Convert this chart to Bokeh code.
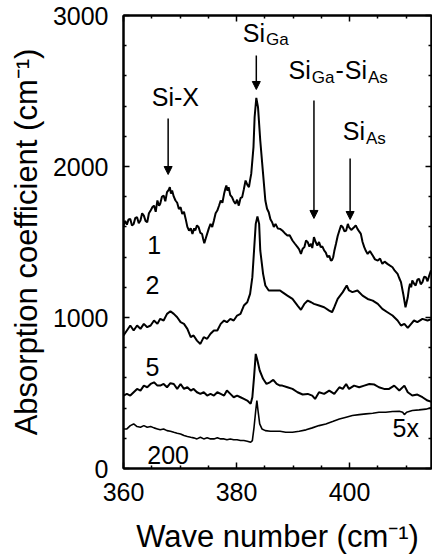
from bokeh.plotting import figure
from bokeh.models import (Range1d, FixedTicker, LinearAxis, Arrow, NormalHead,
                          CustomLabelingPolicy)
from bokeh.core.properties import value
from bokeh.embed import file_html
from bokeh.resources import INLINE

FONT = "Liberation Sans"

# ---------------- data ----------------
X_MAJOR = [360, 380, 400]
X_MINOR = [365, 370, 375, 385, 390, 395, 405, 410]
Y_MAJOR = [0, 1000, 2000, 3000]
Y_MINOR = [200, 400, 600, 800, 1200, 1400, 1600, 1800, 2200, 2400, 2600, 2800]

# curve "1"
wn_1 = [360.0, 360.3, 360.6, 360.9, 361.2, 361.5, 361.8, 362.1, 362.4, 362.7,
        363.0, 363.3, 363.6, 363.9, 364.2, 364.5, 364.8, 365.1, 365.4, 365.7,
        366.0, 366.3, 366.5, 366.8, 367.1, 367.4, 367.7, 368.0, 368.2, 368.4,
        368.6, 368.9, 369.2, 369.5, 369.8, 370.1, 370.4, 370.7, 371.0, 371.3,
        371.6, 371.9, 372.2, 372.5, 372.7, 373.0, 373.3, 373.6, 373.9, 374.1,
        374.3, 374.6, 374.8, 375.1, 375.4, 375.7, 376.0, 376.3, 376.6, 376.9,
        377.2, 377.5, 377.8, 378.0, 378.2, 378.4, 378.6, 378.9, 379.2, 379.5,
        379.8, 380.1, 380.4, 380.7, 381.0, 381.3, 381.6, 381.9, 382.2, 382.4,
        382.6, 383.0, 383.2, 383.5, 383.8, 384.2, 384.7, 385.1, 385.4, 385.7,
        386.0, 386.3, 386.6, 386.9, 387.3, 387.7, 388.1, 388.5, 389.0, 389.4,
        389.9, 390.3, 390.8, 391.1, 391.4, 391.7, 392.0, 392.3, 392.6, 392.9,
        393.2, 393.4, 393.7, 394.0, 394.3, 394.6, 394.9, 395.2, 395.5, 395.8,
        396.1, 396.4, 396.7, 396.9, 397.1, 397.3, 397.6, 397.9, 398.2, 398.5,
        398.8, 399.1, 399.4, 399.7, 399.9, 400.3, 400.8, 401.1, 401.4, 401.7,
        402.0, 402.3, 402.6, 402.9, 403.2, 403.6, 404.1, 404.5, 405.0, 405.4,
        405.8, 406.2, 406.7, 407.1, 407.6, 408.0, 408.5, 408.8, 409.1, 409.5,
        409.9, 410.1, 410.3, 410.5, 410.7, 410.9, 411.1, 411.4, 411.7, 412.0,
        412.3, 412.6, 412.9, 413.2, 413.5, 413.8, 414.1, 414.4, 414.7]
ab_1 = [1609, 1640, 1615, 1650, 1653, 1610, 1620, 1660, 1664, 1625,
        1642, 1690, 1675, 1640, 1631, 1690, 1708, 1730, 1741, 1700,
        1775, 1740, 1753, 1800, 1808, 1770, 1830, 1845, 1863, 1820,
        1841, 1800, 1775, 1760, 1719, 1730, 1686, 1700, 1653, 1600,
        1576, 1590, 1554, 1590, 1576, 1610, 1598, 1560, 1554, 1520,
        1492, 1530, 1554, 1590, 1620, 1600, 1642, 1690, 1708, 1740,
        1775, 1760, 1819, 1850, 1874, 1840, 1863, 1810, 1797, 1770,
        1753, 1780, 1741, 1790, 1797, 1850, 1907, 1880, 1863, 1910,
        1951, 2128, 2326, 2454, 2393, 2172, 1951, 1775, 1720, 1697,
        1650, 1631, 1600, 1620, 1590, 1587, 1576, 1560, 1543, 1545,
        1510, 1490, 1466, 1450, 1421, 1455, 1466, 1510, 1499, 1470,
        1488, 1460, 1532, 1500, 1477, 1500, 1466, 1470, 1444, 1430,
        1399, 1410, 1377, 1380, 1399, 1440, 1488, 1540, 1576, 1610,
        1598, 1570, 1576, 1620, 1598, 1580, 1598, 1610, 1587, 1570,
        1554, 1500, 1466, 1440, 1421, 1440, 1410, 1385, 1377, 1390,
        1355, 1370, 1355, 1345, 1333, 1310, 1289, 1260, 1234, 1156,
        1068, 1100, 1134, 1190, 1223, 1200, 1245, 1225, 1212, 1250,
        1256, 1220, 1234, 1270, 1267, 1240, 1278, 1310, 1300]

# curve "2"
wn_2 = [360.0, 360.6, 361.2, 361.8, 362.4, 363.0, 363.6, 364.2, 364.8, 365.4,
        366.0, 366.5, 367.1, 367.7, 368.3, 368.9, 369.5, 370.1, 370.7, 371.3,
        371.9, 372.4, 373.0, 373.6, 374.2, 374.8, 375.4, 376.0, 376.6, 377.2,
        377.8, 378.3, 378.9, 379.5, 380.1, 380.7, 381.3, 381.9, 382.4, 382.8,
        383.1, 383.4, 383.7, 384.0, 384.2, 384.7, 385.1, 385.7, 386.3, 386.9,
        387.7, 388.1, 389.0, 389.9, 390.8, 391.4, 392.0, 392.6, 393.2, 393.7,
        394.6, 395.5, 396.4, 396.9, 397.3, 397.9, 398.8, 399.5, 399.9, 400.5,
        401.4, 402.3, 403.2, 404.1, 405.0, 405.8, 406.7, 407.6, 408.5, 409.1,
        409.7, 410.3, 410.9, 411.4, 412.0, 412.9, 413.8, 414.7]
ab_2 = [881, 914, 947, 914, 947, 925, 958, 936, 947, 980,
        958, 991, 980, 1024, 1042, 1024, 1002, 969, 958, 925,
        870, 881, 847, 825, 870, 859, 892, 914, 914, 958,
        980, 969, 991, 980, 1013, 1024, 1079, 1101, 1156, 1267,
        1444, 1620, 1669, 1620, 1444, 1289, 1212, 1179, 1179, 1179,
        1179, 1168, 1145, 1123, 1079, 1051, 1090, 1112, 1101, 1090,
        1079, 1068, 1046, 1035, 1068, 1123, 1168, 1212, 1179, 1168,
        1179, 1145, 1123, 1112, 1090, 1057, 1035, 1013, 980, 947,
        958, 931, 958, 980, 969, 991, 980, 991]

# curve "5"
wn_5 = [360.0, 360.6, 361.2, 361.8, 362.4, 363.0, 363.6, 364.2, 364.8, 365.4,
        366.0, 366.5, 367.1, 367.7, 368.3, 368.9, 369.5, 370.1, 370.7, 371.3,
        371.9, 372.4, 373.0, 373.6, 374.2, 374.8, 375.4, 376.0, 376.6, 377.2,
        377.8, 378.3, 378.9, 379.5, 380.1, 380.7, 381.3, 381.9, 382.5, 382.8,
        383.1, 383.4, 383.7, 384.1, 384.7, 385.3, 385.9, 386.5, 387.1, 387.7,
        388.1, 389.0, 389.9, 390.8, 391.7, 392.6, 393.4, 393.9, 394.6, 395.5,
        396.4, 397.3, 398.2, 398.8, 399.4, 399.9, 400.8, 401.7, 402.6, 403.5,
        404.4, 405.2, 406.1, 407.0, 407.9, 408.8, 409.7, 410.3, 411.1, 412.0,
        412.9, 413.8, 414.7]
ab_5 = [483, 494, 483, 505, 527, 516, 549, 538, 560, 571,
        549, 549, 560, 538, 565, 560, 527, 560, 527, 538,
        516, 527, 505, 494, 505, 483, 494, 483, 505, 494,
        483, 516, 494, 472, 483, 472, 461, 450, 428, 472,
        605, 759, 715, 649, 594, 560, 571, 587, 560, 549,
        549, 538, 527, 505, 490, 494, 483, 461, 505, 494,
        516, 494, 538, 527, 560, 527, 549, 538, 549, 560,
        556, 538, 527, 527, 549, 516, 549, 505, 483, 490,
        472, 450, 439]

# curve "200" (shown 5x)
wn_200 = [360.0, 360.6, 361.2, 361.8, 362.4, 363.0, 363.6, 364.2, 364.8, 365.4,
          366.0, 366.5, 367.1, 367.7, 368.3, 368.9, 369.5, 370.1, 370.7, 371.3,
          371.9, 372.4, 373.0, 373.6, 374.2, 374.8, 375.4, 376.0, 376.6, 377.2,
          377.8, 378.3, 378.9, 379.5, 380.1, 380.7, 381.3, 381.9, 382.5, 382.8,
          383.1, 383.4, 383.6, 383.8, 384.1, 384.5, 385.1, 386.0, 386.9, 387.7,
          388.7, 389.9, 391.1, 392.3, 393.4, 394.6, 395.8, 397.0, 398.2, 399.4,
          400.5, 401.7, 402.9, 404.1, 405.2, 406.4, 407.6, 408.8, 409.4, 409.7,
          410.1, 411.1, 412.3, 413.5, 414.7]
ab_200 = [262, 262, 284, 295, 278, 273, 284, 273, 278, 269,
          262, 256, 262, 251, 247, 240, 234, 229, 218, 212,
          207, 203, 196, 207, 196, 203, 196, 196, 203, 196,
          196, 190, 196, 190, 190, 185, 185, 181, 174, 185,
          273, 384, 450, 384, 295, 262, 251, 247, 247, 247,
          240, 240, 247, 256, 269, 284, 295, 311, 328, 340,
          351, 357, 362, 366, 373, 373, 377, 379, 373, 357,
          373, 384, 388, 393, 406]

# curve labels and their anchor points (data units)
CURVE_LABELS = ["1", "2", "5", "200", "5x"]
CURVE_LABEL_X = [364.2, 363.9, 363.9, 364.2, 407.6]
CURVE_LABEL_Y = [1417, 1152, 603, 26, 199]

# peak annotations: text pieces (text, is_subscript), text anchor, arrow
PEAK_TEXT = [
    [("Si-X", False)],
    [("Si", False), ("Ga", True)],
    [("Si", False), ("Ga", True), ("-", False), ("Si", False), ("As", True)],
    [("Si", False), ("As", True)],
]
PEAK_TEXT_X = [365.0, 381.1, 389.2, 398.8]
PEAK_TEXT_Y = [2391, 2821, 2570, 2166]
ARROW_X = [367.9, 383.5, 393.7, 400.1]
ARROW_TOP = [2318, 2735, 2437, 2053]
ARROW_TIP = [1947, 2510, 1656, 1649]

# ---------------- figure ----------------
p = figure(width=432, height=560, output_backend="svg", toolbar_location=None,
           x_range=Range1d(360, 414.5), y_range=Range1d(0, 3000),
           min_border_left=123, min_border_right=1, min_border_top=15,
           min_border_bottom=92, background_fill_color="white",
           border_fill_color="white")
p.grid.visible = False
p.outline_line_color = "black"
p.outline_line_width = 2

HIDE_LABELS = CustomLabelingPolicy(
    code="for (let i = 0; i < indices.size; i++) { indices.unset(i) }\nreturn indices")


def style_axis(ax, major, minor, labels=True):
    ax.ticker = FixedTicker(ticks=major, minor_ticks=minor)
    ax.axis_line_color = "black"
    ax.axis_line_width = 2
    ax.major_tick_line_color = "black"
    ax.minor_tick_line_color = "black"
    ax.major_tick_line_width = 1.5
    ax.minor_tick_line_width = 1.5
    ax.major_tick_in = 6
    ax.major_tick_out = 0
    ax.minor_tick_in = 3
    ax.minor_tick_out = 0
    ax.major_label_text_font = FONT
    ax.major_label_text_color = "black"
    ax.axis_label_text_font = FONT
    ax.axis_label_text_font_style = "normal"
    ax.axis_label_text_color = "black"
    if labels:
        ax.major_label_text_font_size = "25px"
        ax.axis_label_text_font_size = "31px"
    else:
        ax.major_label_policy = HIDE_LABELS
        ax.major_label_text_font_size = "0px"
        ax.major_label_standoff = 0


style_axis(p.xaxis[0], X_MAJOR, X_MINOR)
p.xaxis[0].axis_label = "Wave number (cm\u207b\u00b9)"
p.xaxis[0].major_label_standoff = 14
p.xaxis[0].axis_label_standoff = 15

style_axis(p.yaxis[0], Y_MAJOR, Y_MINOR)
p.yaxis[0].axis_label = "Absorption coefficient (cm\u207b\u00b9)"
p.yaxis[0].major_label_standoff = 15
p.yaxis[0].axis_label_standoff = 6

top = LinearAxis()
style_axis(top, X_MAJOR, X_MINOR, labels=False)
p.add_layout(top, "above")
right = LinearAxis()
style_axis(right, Y_MAJOR, Y_MINOR, labels=False)
p.add_layout(right, "right")

# ---------------- curves ----------------
p.line(wn_1, ab_1, line_color="black", line_width=2)
p.line(wn_2, ab_2, line_color="black", line_width=2)
p.line(wn_5, ab_5, line_color="black", line_width=2)
p.line(wn_200, ab_200, line_color="black", line_width=1.6)

LIFT = -10  # screen-pixel correction of the text baseline

p.text(x=CURVE_LABEL_X, y=CURVE_LABEL_Y, text=CURVE_LABELS, y_offset=LIFT,
       text_font=value(FONT), text_font_size="25px", text_color="black",
       text_align="left", text_baseline="alphabetic")

# ---------------- peak annotations ----------------
WIDTH = {"S": 0.667, "i": 0.222, "G": 0.778, "a": 0.556, "A": 0.667,
         "s": 0.5, "-": 0.333, "X": 0.667}
MAIN_SIZE, SUB_SIZE, SUB_DROP = 25, 17, 7

for pieces, tx, ty in zip(PEAK_TEXT, PEAK_TEXT_X, PEAK_TEXT_Y):
    off = 0.0
    for txt, sub in pieces:
        size = SUB_SIZE if sub else MAIN_SIZE
        p.text(x=[tx], y=[ty], text=[txt], x_offset=off,
               y_offset=LIFT + (SUB_DROP if sub else 0),
               text_font=value(FONT), text_font_size=f"{size}px",
               text_color="black", text_align="left",
               text_baseline="alphabetic")
        off += sum(WIDTH[c] for c in txt) * size + 1

for ax_, top_, tip_ in zip(ARROW_X, ARROW_TOP, ARROW_TIP):
    p.add_layout(Arrow(end=NormalHead(size=8, fill_color="black",
                                      line_color="black", line_width=1),
                       x_start=ax_, y_start=top_, x_end=ax_, y_end=tip_,
                       line_color="black", line_width=1.5))

open("out.html", "w").write(file_html(p, INLINE))
